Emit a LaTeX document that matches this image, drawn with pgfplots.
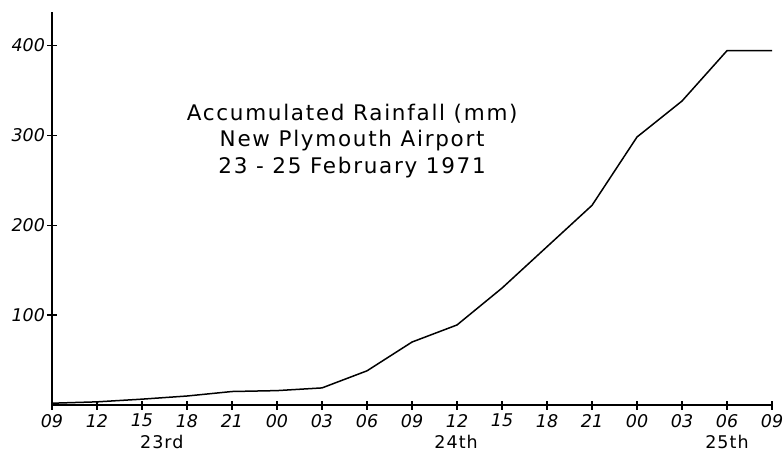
\documentclass[border=0pt]{standalone}
\usepackage{fontspec}
\setmainfont{DejaVu Sans}
\newfontfamily\titlefont[LetterSpace=8]{DejaVu Sans}
\newfontfamily\dayfont[LetterSpace=6]{DejaVu Sans}
\usepackage{pgfplots}
\pgfplotsset{compat=1.18}
\begin{document}
\begin{tikzpicture}
\useasboundingbox (-52pt,-48pt) rectangle (732pt,405pt);
\begin{axis}[
  at={(0,0)}, anchor=south west,
  scale only axis, width=720pt, height=393pt,
  xmin=0, xmax=16, ymin=0, ymax=437,
  axis lines=left,
  axis line style={-, line width=1.5pt},
  clip=false,
  xtick={0,...,16},
  xticklabels={09,12,15,18,21,00,03,06,09,12,15,18,21,00,03,06,09},
  ytick={100,200,300,400},
  tick align=center,
  major tick length=9pt,
  tick style={line width=1.2pt, black},
  /pgf/number format/assume math mode=true,
  ticklabel style={font=\fontsize{17.5}{17.5}\selectfont\itshape},
  yticklabel style={xshift=1pt},
  xticklabel style={yshift=-1pt},
]
\addplot[black, line width=1.5pt] coordinates {
 (0,2) (1,3.5) (2,6.5) (3,10) (4,15) (5,16) (6,19) (7,38) (8,70)
 (9,89) (10,130) (11,176) (12,222) (13,298) (14,338) (15,394) (16,394)
};
\node[align=center, font=\titlefont\fontsize{21.5}{26.5}\selectfont, anchor=center]
  at (axis cs:6.67,294) {Accumulated Rainfall (mm)\\New Plymouth Airport\\23 - 25 February 1971};
\node[font=\dayfont\fontsize{17.5}{17.5}\selectfont] at (axis cs:2.44,-41) {23rd};
\node[font=\dayfont\fontsize{17.5}{17.5}\selectfont] at (axis cs:8.98,-41) {24th};
\node[font=\dayfont\fontsize{17.5}{17.5}\selectfont] at (axis cs:15,-41) {25th};
\end{axis}
\end{tikzpicture}
\end{document}
